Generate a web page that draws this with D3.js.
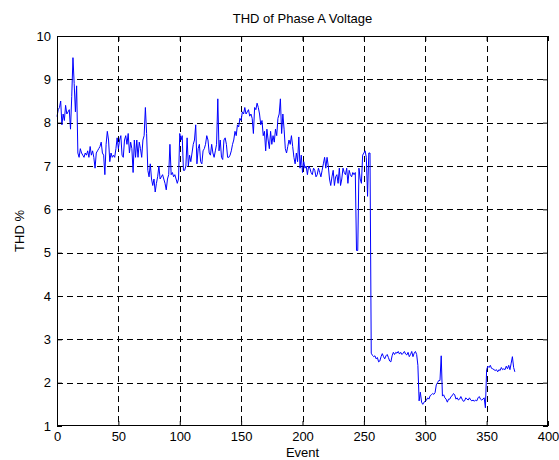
<!DOCTYPE html>
<html>
<head>
<meta charset="utf-8">
<script src="https://cdn.jsdelivr.net/npm/d3@7"></script>
<style>
  html, body { margin: 0; padding: 0; background: #fff; }
  svg { display: block; font-family: "Liberation Sans", Arial, sans-serif; }
</style>
</head>
<body>
<svg id="chart" width="559" height="460"></svg>
<script>
// ---- Data ----
const titleText = "THD of Phase A Voltage";
const xLabel = "Event";
const yLabel = "THD %";
const xTicks = [0, 50, 100, 150, 200, 250, 300, 350, 400];
const yTicks = [1, 2, 3, 4, 5, 6, 7, 8, 9, 10];

// THD % per event (event index 0..373)
const thd = [
  8.14, 8.3, 8.35, 8.5, 7.95, 8.2, 8.05, 8.4, 8.2, 8.25,
  8.3, 7.85, 8.6, 9.5, 8.9, 8.25, 8.85, 7.3, 7.2, 7.4,
  7.3, 7.25, 7.2, 7.3, 7.25, 7.35, 7.2, 7.45, 7.25, 7.35,
  7.2, 6.95, 7.3, 7.35, 7.4, 7.45, 7.55, 7.3, 7.25, 6.8,
  7.5, 7.8, 7.6, 7.1, 7.3, 7.2, 7.25, 7.2, 7.4, 7.65,
  7.4, 7.6, 7.7, 7.25, 7.2, 7.6, 7.7, 7.5, 7.75, 7.3,
  7.55, 7.4, 6.85, 7.6, 7.2, 7.6, 7.2, 7.55, 7.4, 7.2,
  7.6, 7.7, 8.35, 7.75, 6.9, 6.75, 7.05, 6.7, 6.55, 6.7,
  6.4, 6.6, 6.75, 7.0, 6.7, 6.75, 6.8, 6.7, 6.6, 6.45,
  6.7, 6.8, 7.5, 6.8, 6.85, 6.75, 6.8, 6.7, 6.6, 6.7,
  7.75, 7.6, 7.7, 6.9, 6.9, 7.0, 7.65, 7.0, 7.25, 7.1,
  7.3, 7.5, 7.6, 7.95, 7.05, 7.4, 7.5, 7.1, 7.05, 7.35,
  7.4, 7.5, 7.7, 7.6, 7.3, 7.25, 7.5, 7.3, 7.2, 7.35,
  7.5, 8.55, 7.35, 7.6, 7.2, 7.15, 7.6, 7.65, 7.5, 7.2,
  7.2, 7.25, 7.35, 7.5, 7.6, 7.8, 7.7, 7.95, 7.9, 8.1,
  8.05, 8.25, 8.2, 8.35, 8.2, 8.25, 8.3, 8.15, 8.2, 8.1,
  7.75, 8.35, 8.3, 8.45, 8.35, 8.2, 7.95, 8.05, 7.7, 7.8,
  7.35, 7.85, 7.6, 7.4, 7.8, 7.5, 7.7, 7.55, 7.85, 7.7,
  8.1, 8.2, 8.55, 7.75, 8.2, 7.85, 7.4, 7.3, 7.45, 7.6,
  7.5, 7.7, 7.45, 7.2, 7.05, 7.3, 7.1, 7.67, 6.95, 7.25,
  6.85, 7.1, 6.95, 7.0, 6.8, 7.0, 6.95, 6.85, 6.8, 6.95,
  6.9, 6.75, 6.8, 6.95, 6.85, 6.75, 6.9, 7.05, 7.2, 6.95,
  7.2, 7.0, 6.7, 6.55, 6.75, 6.9, 6.55, 6.75, 6.8, 6.6,
  6.95, 6.55, 6.7, 6.95, 6.85, 6.8, 6.95, 6.6, 6.9, 6.8,
  6.75, 6.85, 6.8, 6.85, 5.05, 5.05, 6.95, 6.7, 6.6, 7.25,
  7.3, 7.35, 7.2, 6.3, 7.3, 7.3, 2.68, 2.63, 2.6, 2.62,
  2.55, 2.58, 2.48, 2.5, 2.6, 2.67, 2.6, 2.55, 2.62, 2.65,
  2.58, 2.5, 2.48, 2.62, 2.7, 2.65, 2.7, 2.68, 2.72, 2.66,
  2.7, 2.65, 2.68, 2.72, 2.66, 2.64, 2.7, 2.6, 2.65, 2.72,
  2.6, 2.68, 2.72, 2.65, 2.4, 1.58, 1.78, 1.55, 1.5, 1.55,
  1.57, 1.6, 1.65, 1.62, 1.7, 1.72, 1.75, 1.73, 1.77, 1.95,
  2.0, 2.05, 2.05, 2.62, 1.69, 1.72, 1.65, 1.62, 1.55, 1.62,
  1.62, 1.68, 1.7, 1.75, 1.72, 1.62, 1.65, 1.6, 1.62, 1.68,
  1.62, 1.57, 1.58, 1.65, 1.62, 1.6, 1.65, 1.6, 1.58, 1.6,
  1.57, 1.6, 1.58, 1.65, 1.68, 1.62, 1.6, 1.62, 1.65, 1.42,
  2.3, 2.38, 2.35, 2.4, 2.33, 2.32, 2.3, 2.28, 2.3, 2.25,
  2.3, 2.28, 2.35, 2.3, 2.32, 2.3, 2.38, 2.32, 2.4, 2.3,
  2.45, 2.6, 2.35, 2.25
];
const events = thd.map((v, i) => i);

// ---- Layout ----
const W = 559, H = 460;
const m = { left: 57, right: 11, top: 36, bottom: 34 };
const pw = W - m.left - m.right;
const ph = H - m.top - m.bottom;

const svg = d3.select("#chart");
svg.append("rect").attr("width", W).attr("height", H).attr("fill", "#fff");

const x = d3.scaleLinear().domain([0, 400]).range([m.left, m.left + pw]);
const y = d3.scaleLinear().domain([1, 10]).range([m.top + ph, m.top]);

const g = svg.append("g");

// grid
const grid = g.append("g").attr("stroke", "#000").attr("stroke-width", 1)
  .attr("stroke-dasharray", "6,4").attr("fill", "none").attr("shape-rendering", "crispEdges");
grid.selectAll("line.gx").data(xTicks.slice(1, -1)).join("line")
  .attr("class", "gx")
  .attr("x1", d => Math.round(x(d)) + 0.5).attr("x2", d => Math.round(x(d)) + 0.5)
  .attr("y1", m.top).attr("y2", m.top + ph);
grid.selectAll("line.gy").data(yTicks.slice(1, -1)).join("line")
  .attr("class", "gy")
  .attr("y1", d => Math.round(y(d)) + 0.5).attr("y2", d => Math.round(y(d)) + 0.5)
  .attr("x1", m.left).attr("x2", m.left + pw);

// data line
const line = d3.line().x((d, i) => x(events[i])).y(d => y(d));
g.append("path").datum(thd)
  .attr("d", line).attr("fill", "none").attr("stroke", "#0000ff").attr("stroke-width", 1);

// axes (ticks inward)
const fs = "13px";
const axBottom = d3.axisBottom(x).tickValues(xTicks).tickSizeInner(-5).tickSizeOuter(0).tickPadding(6).tickFormat(d3.format("d"));
const axLeft = d3.axisLeft(y).tickValues(yTicks).tickSizeInner(-5).tickSizeOuter(0).tickPadding(6).tickFormat(d3.format("d"));
const axTop = d3.axisTop(x).tickValues(xTicks).tickSizeInner(-5).tickSizeOuter(0).tickFormat("");
const axRight = d3.axisRight(y).tickValues(yTicks).tickSizeInner(-5).tickSizeOuter(0).tickFormat("");

function style(sel) {
  sel.selectAll("path.domain").remove();
  sel.selectAll("line").attr("stroke", "#000");
  sel.selectAll("text").attr("font-size", fs).attr("fill", "#000")
    .attr("font-family", "'Liberation Sans', Arial, sans-serif");
}
g.append("g").attr("transform", `translate(0,${m.top + ph})`).call(axBottom).call(style);
g.append("g").attr("transform", `translate(${m.left},0)`).call(axLeft).call(style);
g.append("g").attr("transform", `translate(0,${m.top})`).call(axTop).call(style);
g.append("g").attr("transform", `translate(${m.left + pw},0)`).call(axRight).call(style);

// box
g.append("rect").attr("x", m.left + 0.5).attr("y", m.top + 0.5)
  .attr("width", pw - 1).attr("height", ph - 1)
  .attr("fill", "none").attr("stroke", "#000").attr("stroke-width", 1)
  .attr("shape-rendering", "crispEdges");

// labels
svg.append("text").attr("x", m.left + pw / 2).attr("y", 23)
  .attr("text-anchor", "middle").attr("font-size", fs).text(titleText);
svg.append("text").attr("x", m.left + pw / 2).attr("y", 457)
  .attr("text-anchor", "middle").attr("font-size", fs).text(xLabel);
svg.append("text").attr("transform", `translate(24,${m.top + ph / 2}) rotate(-90)`)
  .attr("text-anchor", "middle").attr("font-size", fs).text(yLabel);
</script>
</body>
</html>
